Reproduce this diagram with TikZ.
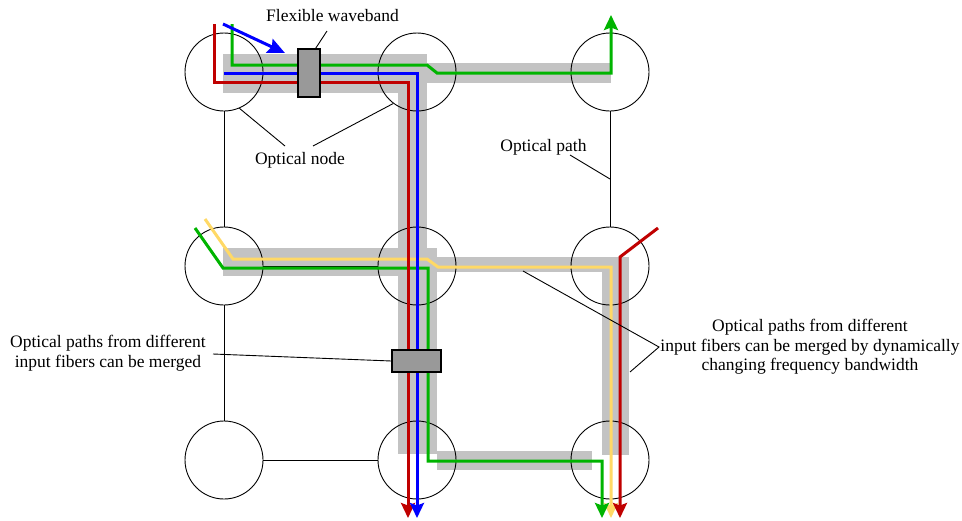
\documentclass[tikz,border=0pt]{standalone}
\usepackage{fontspec}
\setmainfont{Liberation Serif}
\usetikzlibrary{arrows.meta}
\definecolor{pred}{HTML}{C00000}
\definecolor{pblue}{HTML}{0000FF}
\definecolor{pgreen}{HTML}{00B400}
\definecolor{pyel}{HTML}{FFD966}
\definecolor{bandg}{HTML}{C3C3C3}
\definecolor{boxg}{HTML}{999999}
\begin{document}
\begin{tikzpicture}[x=1pt,y=-1pt,
  onode/.style={circle,draw=black,line width=0.9pt,minimum size=78pt,inner sep=0pt},
  link/.style={draw=black,line width=0.9pt},
  leader/.style={draw=black,line width=0.9pt},
  bandfill/.style={fill=bandg},
  fib/.style={line width=3pt},
  tipend/.style={-{Stealth[length=15pt,width=14pt,inset=2.5pt]}},
  wbox/.style={draw=black,fill=boxg,line width=1.2pt,inner sep=0pt},
  lbl/.style={font=\fontsize{17.5}{19.5}\selectfont,align=center,inner sep=0pt}]
\useasboundingbox (0,0) rectangle (962,520);
% grey bands
\fill[bandfill] (223,54) rectangle (427,93);
\fill[bandfill] (398,54) rectangle (427,248);
\fill[bandfill] (398,248) rectangle (437,454);
\fill[bandfill] (223,248) rectangle (398,276);
\fill[bandfill] (437,257) rectangle (602,272);
\fill[bandfill] (602,257) rectangle (629,455);
\fill[bandfill] (427,63) rectangle (611,83);
\fill[bandfill] (437,451) rectangle (592,470);
% optical nodes
\node[onode] (n11) at (224,72) {};
\node[onode] (n12) at (417,72) {};
\node[onode] (n13) at (610,72) {};
\node[onode] (n21) at (224,266) {};
\node[onode] (n22) at (417,266) {};
\node[onode] (n23) at (610,266) {};
\node[onode] (n31) at (224,460) {};
\node[onode] (n32) at (417,460) {};
\node[onode] (n33) at (610,460) {};
% links
\draw[link] (n11) -- (n12);
\draw[link] (n12) -- (n13);
\draw[link] (n21) -- (n22);
\draw[link] (n22) -- (n23);
\draw[link] (n31) -- (n32);
\draw[link] (n32) -- (n33);
\draw[link] (n11) -- (n21);
\draw[link] (n21) -- (n31);
\draw[link] (n12) -- (n22);
\draw[link] (n22) -- (n32);
\draw[link] (n13) -- (n23);
\draw[link] (n23) -- (n33);
% fibers
\coordinate (ys) at (205,219);
\coordinate (gms) at (195,228);
\coordinate (rrs) at (658,228);
\coordinate (rs) at (214,24);
\coordinate (gs) at (232,24);
\coordinate (bs) at (224,73);
\coordinate (ba) at (223,24);
\coordinate (bb) at (285,53);
\draw[fib,pyel,tipend] (ys) -- (233,259) -- (427,259) -- (438,267) -- (611,267) -- (611,518);
\draw[fib,pgreen,tipend] (gms) -- (223,268) -- (428,268) -- (428,461) -- (602,461) -- (602,518);
\draw[fib,pgreen,tipend] (gs) -- (232,65) -- (427,65) -- (437,73) -- (611,73) -- (611,15);
\draw[fib,pred,tipend] (rrs) -- (620,257) -- (620,518);
\draw[fib,pred,tipend] (rs) -- (214,82) -- (408,82) -- (408,518);
\draw[fib,pblue,tipend] (bs) -- (417,73) -- (417,518);
\draw[fib,pblue,-{Stealth[length=17pt,width=15pt,inset=2.5pt]}] (ba) -- (bb);
% waveband boxes
\node[wbox,minimum width=22pt,minimum height=48pt] (box1) at (309,73) {};
\node[wbox,minimum width=49pt,minimum height=22pt] (box2) at (416.5,361) {};
% labels
\node[lbl] (lflex) at (332.5,16) {Flexible waveband};
\node[lbl] (lnode) at (300,160) {Optical node};
\node[lbl] (lpath) at (543.5,147) {Optical path};
\node[lbl] (lmerge) at (108,353) {Optical paths from different\\input fibers can be merged};
\node[lbl] (ldyn) at (810,347) {Optical paths from different\\input fibers can be merged by dynamically\\changing frequency bandwidth};
% leaders
\coordinate (fa) at (327,31);
\draw[leader] (fa) -- (box1.75);
\coordinate (na) at (285,146);
\coordinate (nb) at (313,146);
\draw[leader] (na) -- (n11.-67);
\draw[leader] (nb) -- (n12.-127);
\coordinate (pa) at (570,155);
\coordinate (pb) at (610,179);
\draw[leader] (pa) -- (pb);
\coordinate (ma) at (213,354);
\draw[leader] (ma) -- (box2.west);
\coordinate (dv) at (659,347);
\coordinate (d1) at (523,271);
\coordinate (d2) at (630,372);
\draw[leader] (d1) -- (dv) -- (d2);
\end{tikzpicture}
\end{document}
